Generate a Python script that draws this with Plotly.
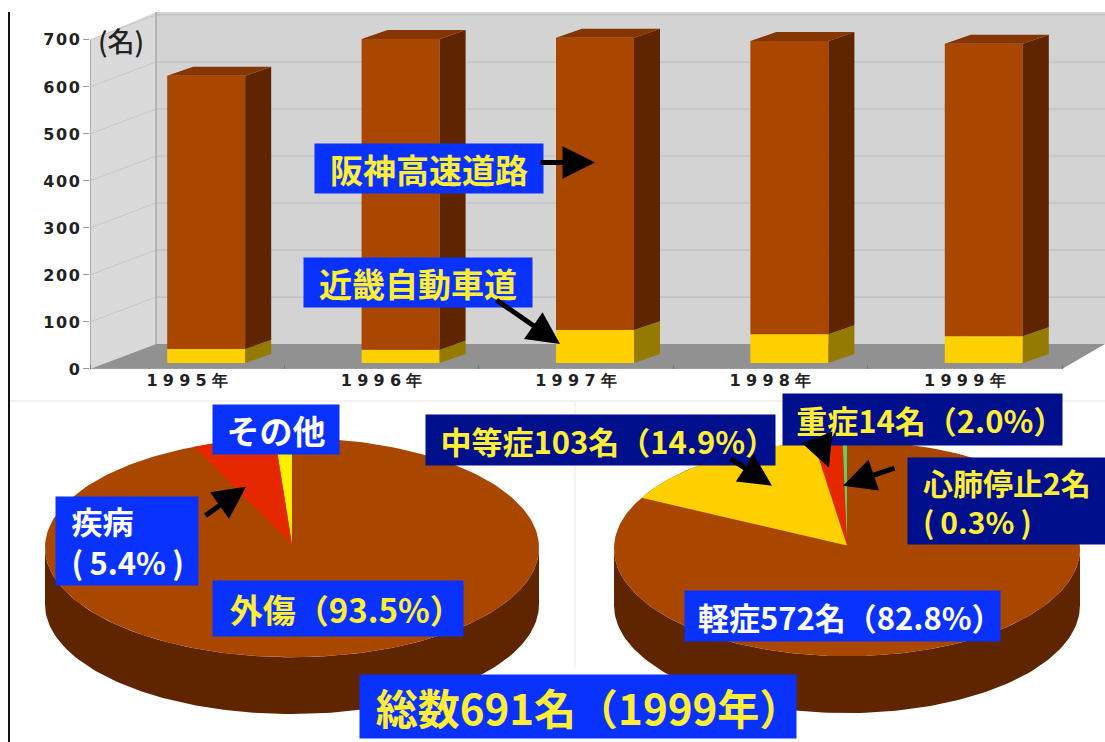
import math
import plotly.graph_objects as go

W, H = 1105, 742
LAYOUT_H = 742
COORD_H = 734
years = ["1995年", "1996年", "1997年", "1998年", "1999年"]
kinki = [30, 28, 70, 61, 57]
hanshin = [581, 661, 622, 624, 622]
y_ticks = [0, 100, 200, 300, 400, 500, 600, 700]
cause_shares = [93.5, 5.4, 1.1]
severity_shares = [82.8, 14.9, 2.0, 0.3]

BROWN, SIDE, TOP = "#A94600", "#5F2400", "#853500"
YEL, YSIDE = "#FFD000", "#957A00"
BLUE, NAVY = "#0A32FF", "#00108C"
TXT = "#FFEE33"

# projection in data units
PITCH = 972 / 5
UY = 330 / 700
X_MAX = (W - 90) / PITCH - 0.5
Y_MAX = 358 / UY
WALL_DX, WALL_DY = 66 / PITCH, 25 / UY
BAR_DX, BAR_W, BAR_BASE = 19 / PITCH, 78 / PITCH, 6 / UY
SIDE_DX, SIDE_DY = 26 / PITCH, 9 / UY

fig = go.Figure()
shapes = []


def py(y):
    return 1 - y / COORD_H


def poly(x, y, color, axes=("x", "y")):
    fig.add_trace(go.Scatter(x=x + x[:1], y=y + y[:1], mode="lines", fill="toself",
                             fillcolor=color, line=dict(color=color, width=0),
                             hoverinfo="skip", showlegend=False, xaxis=axes[0], yaxis=axes[1]))


def wall(x, y, color):
    path = "M" + " L".join(f"{a},{b}" for a, b in zip(x, y)) + " Z"
    shapes.append(dict(type="path", xref="x", yref="y", path=path, fillcolor=color, line=dict(width=0), layer="below"))


def seg(x0, y0, x1, y1, color, width):
    shapes.append(dict(type="line", xref="x", yref="y", x0=x0, y0=y0, x1=x1, y1=y1,
                       line=dict(color=color, width=width), layer="below"))


L = -0.5
R = 4.5
# walls and floor
wall([L, L + WALL_DX, L + WALL_DX, L], [0, WALL_DY, Y_MAX, 700], "#DADADA")
wall([L + WALL_DX, X_MAX, X_MAX, L + WALL_DX], [WALL_DY, WALL_DY, Y_MAX, Y_MAX], "#D3D3D3")
wall([L, L + WALL_DX, X_MAX, R], [0, WALL_DY, WALL_DY, 0], "#919191")
for v in y_ticks[1:]:
    seg(L, v, L + WALL_DX, v + WALL_DY, "#C6C6C6", 1)
    seg(L + WALL_DX, v + WALL_DY, X_MAX, v + WALL_DY, "#BDBDBD", 1.2)
seg(L + WALL_DX, WALL_DY, L + WALL_DX, Y_MAX, "#A8A8A8", 1.5)
seg(L, 0, L, 700, "#A0A0A0", 1.5)
seg(L, 0, R, 0, "#A0A0A0", 1.5)

# bar side and top faces
for i, (k, h) in enumerate(zip(kinki, hanshin)):
    x0 = i + BAR_DX - BAR_W / 2
    x1 = x0 + BAR_W
    b = BAR_BASE
    poly([x1, x1 + SIDE_DX, x1 + SIDE_DX, x1], [b, b + SIDE_DY, b + k + SIDE_DY, b + k], YSIDE)
    poly([x1, x1 + SIDE_DX, x1 + SIDE_DX, x1], [b + k, b + k + SIDE_DY, b + k + h + SIDE_DY, b + k + h], SIDE)
    t = b + k + h
    poly([x0, x1, x1 + SIDE_DX, x0 + SIDE_DX], [t, t, t + SIDE_DY, t + SIDE_DY], TOP)

bar_x = [i + BAR_DX for i in range(len(years))]
fig.add_trace(go.Bar(x=bar_x, y=kinki, base=[BAR_BASE] * 5, width=BAR_W, marker=dict(color=YEL, line=dict(width=0)),
                     name="近畿自動車道", showlegend=False))
fig.add_trace(go.Bar(x=bar_x, y=hanshin, base=[BAR_BASE + k for k in kinki], width=BAR_W,
                     marker=dict(color=BROWN, line=dict(width=0)), name="阪神高速道路", showlegend=False))


# pies on a second full-page axis pair
def ellipse(cx, cy, rx, ry, a0, a1, n):
    pts = [a0 + (a1 - a0) * j / n for j in range(n + 1)]
    return [cx + rx * math.sin(a) for a in pts], [cy - ry * math.cos(a) for a in pts]


def pie(cx, cy, rx, ry, depth, shares, colors):
    ax = ("x2", "y2")
    xs, ys = ellipse(cx, cy, rx, ry, math.pi / 2, 3 * math.pi / 2, 120)
    poly(xs + xs[::-1], ys + [v + depth for v in ys[::-1]], SIDE, ax)
    poly(*ellipse(cx, cy, rx, ry, 0, 2 * math.pi, 240), BROWN, ax)
    # slices run anticlockwise from twelve o'clock; the first share is the remainder
    start = 0.0
    for share, col in list(zip(shares, colors))[:0:-1]:
        end = start - share / 100 * 2 * math.pi
        ex, ey = ellipse(cx, cy, rx, ry, start, end, 40)
        poly([cx] + ex, [cy - 3] + ey, col, ax)
        start = end


pie(292, 549, 247, 110, 57, cause_shares, [BROWN, "#E52800", "#FFEE00"])
pie(847, 550, 233, 108, 57, severity_shares, [BROWN, YEL, "#E52800", "#66CC66"])

ann = []


def label(x0, y0, x1, y1, text, bg=BLUE, color=TXT, size=29, align="center"):
    ann.append(dict(xref="paper", yref="paper", x=x0 / W, y=py(y0), xanchor="left", yanchor="top",
                    width=x1 - x0, height=y1 - y0, borderpad=0, bgcolor=bg, align=align,
                    valign="middle", showarrow=False, text=text,
                    font=dict(family="Noto Sans CJK JP", size=size, color=color, weight="bold")))


def arrow(tx, ty, hx, hy):
    ann.append(dict(xref="paper", yref="paper", x=hx / W, y=py(hy), axref="pixel", ayref="pixel",
                    ax=tx - hx, ay=ty - hy, text="", showarrow=True, arrowhead=2, arrowsize=1.3,
                    arrowwidth=5, arrowcolor="#000000"))


ann.append(dict(xref="paper", yref="paper", x=121 / W, y=py(41), xanchor="center", yanchor="middle", showarrow=False,
                text="(名)", font=dict(family="Noto Sans CJK JP", size=27, color="#222222", weight=500)))
label(314, 143, 542, 192, "阪神高速道路", size=33)
label(303, 258, 531, 307, "近畿自動車道", size=33)
label(212, 405, 338, 454, "その他", color="#FFFFFF", size=33)
label(55, 497, 197, 585, "\u2002疾病<br>\u2002(\u20095.4%\u2009)", color="#FFFFFF", size=31, align="left")
label(212, 582, 462, 637, "\u2002外傷（93.5%）", size=33)
label(425, 415, 774, 465, "\u2002中等症103名（14.9%）", bg=NAVY, size=31)
label(782, 394, 1061, 445, "\u2002重症14名（2.0%）", bg=NAVY, size=31)
label(907, 458, 1105, 544, "\u2002心肺停止2名<br>\u2002(\u20090.3%\u2009)", bg=NAVY, size=30, align="left")
label(684, 592, 999, 642, "\u2002軽症572名（82.8%）", color="#FFFFFF", size=31)
label(359, 676, 795, 739, "\u2002総数691名（1999年）", size=42)
arrow(539, 163, 595, 163)
arrow(495, 300, 560, 345)
arrow(204, 518, 246, 488)
arrow(729, 459, 772, 487)
arrow(817, 438, 829, 469)
arrow(896, 469, 843, 487)

shapes += [
    dict(type="line", xref="paper", yref="paper", x0=9 / W, x1=9 / W, y0=-0.03, y1=py(12), line=dict(color="#111111", width=2)),
    dict(type="line", xref="paper", yref="paper", x0=10 / W, x1=1, y0=py(402), y1=py(402), line=dict(color="#EEEEEE", width=1.5)),
    dict(type="line", xref="paper", yref="paper", x0=575 / W, x1=575 / W, y0=py(402), y1=py(670), line=dict(color="#F0F0F0", width=1.5)),
]

fig.update_layout(
    width=W, height=LAYOUT_H, autosize=False, margin=dict(l=0, r=0, t=0, b=0),
    paper_bgcolor="#FFFFFF", plot_bgcolor="rgba(0,0,0,0)", barmode="overlay", showlegend=False,
    annotations=ann, shapes=shapes,
    xaxis=dict(domain=[90 / W, 1], range=[L, X_MAX], tickmode="array", tickvals=list(range(5)),
               ticktext=["\u2004".join(y[:4]) + "\u2004" + y[4:] for y in years], ticks="", showgrid=False, zeroline=False,
               showline=False, tickfont=dict(family="DejaVu Sans", size=16, color="#222222", weight="bold"),
               minor=dict(tickmode="array", tickvals=[L + j for j in range(6)], ticks="inside", ticklen=4, tickcolor="#777777")),
    yaxis=dict(domain=[py(370), py(12)], range=[0, Y_MAX], tickmode="array", tickvals=y_ticks,
               ticktext=["\u200a".join(str(v)) for v in y_ticks], ticks="outside", ticklen=6, tickcolor="#999999",
               showgrid=False, zeroline=False, showline=False,
               tickfont=dict(family="DejaVu Sans", size=16, color="#222222", weight="bold")),
    xaxis2=dict(domain=[0, 1], range=[0, W], visible=False, anchor="y2"),
    yaxis2=dict(domain=[0, 1], range=[COORD_H, 0], visible=False, anchor="x2"),
)
fig.write_html("out.html", config={"displayModeBar": False},
               post_script="document.body.style.margin='0';document.body.style.overflow='hidden';")
